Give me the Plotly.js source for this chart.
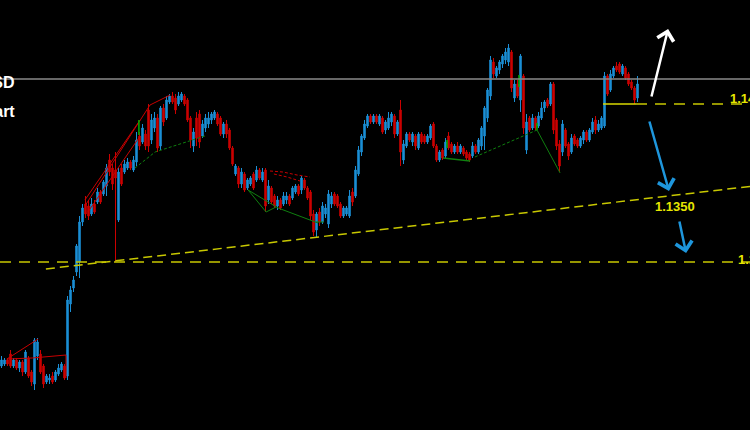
<!DOCTYPE html>
<html>
<head>
<meta charset="utf-8">
<script src="https://cdn.plot.ly/plotly-3.0.1.min.js"></script>
<style>html,body{margin:0;padding:0;background:#000;}#chart{width:750px;height:430px;}</style>
</head>
<body>
<div id="chart"></div>
<script>
// EURUSD candles (bar index 0..212)
const open = [1.1267,1.1268,1.1270,1.1273,1.1267,1.1270,1.1266,1.1269,1.1264,1.1271,
 1.1264,1.1258,1.1272,1.1273,1.1267,1.1259,1.1260,1.1262,1.1260,1.1263,
 1.1265,1.1267,1.1262,1.1298,1.1306,1.1314,1.1319,1.1339,1.1348,1.1347,
 1.1343,1.1348,1.1349,1.1354,1.1353,1.1357,1.1370,1.1366,1.1365,1.1340,
 1.1366,1.1364,1.1366,1.1369,1.1365,1.1369,1.1382,1.1379,1.1383,1.1395,
 1.1380,1.1386,1.1391,1.1377,1.1396,1.1391,1.1399,1.1402,1.1401,1.1398,
 1.1400,1.1402,1.1400,1.1391,1.1377,1.1391,1.1393,1.1382,1.1386,1.1388,
 1.1390,1.1391,1.1393,1.1391,1.1383,1.1388,1.1385,1.1376,1.1363,1.1366,
 1.1358,1.1363,1.1356,1.1358,1.1363,1.1360,1.1365,1.1360,1.1365,1.1350,
 1.1356,1.1352,1.1347,1.1350,1.1348,1.1350,1.1352,1.1351,1.1354,1.1357,
 1.1355,1.1360,1.1356,1.1354,1.1343,1.1335,1.1344,1.1339,1.1343,1.1338,
 1.1348,1.1353,1.1352,1.1348,1.1342,1.1343,1.1342,1.1354,1.1352,1.1363,
 1.1374,1.1381,1.1387,1.1392,1.1389,1.1392,1.1388,1.1391,1.1385,1.1386,
 1.1389,1.1392,1.1383,1.1395,1.1370,1.1377,1.1383,1.1379,1.1382,1.1376,
 1.1383,1.1382,1.1379,1.1381,1.1388,1.1377,1.1370,1.1375,1.1372,1.1382,
 1.1378,1.1374,1.1377,1.1374,1.1376,1.1374,1.1373,1.1372,1.1377,1.1374,
 1.1377,1.1382,1.1391,1.1402,1.1419,1.1412,1.1415,1.1418,1.1420,1.1419,
 1.1424,1.1401,1.1408,1.1400,1.1412,1.1375,1.1391,1.1386,1.1391,1.1387,
 1.1391,1.1396,1.1400,1.1398,1.1408,1.1390,1.1378,1.1374,1.1385,1.1378,
 1.1374,1.1382,1.1380,1.1377,1.1380,1.1384,1.1380,1.1384,1.1390,1.1385,
 1.1386,1.1387,1.1412,1.1405,1.1412,1.1417,1.1418,1.1413,1.1416,1.1413,
 1.1409,1.1406,1.1401];
const high = [1.1272,1.1271,1.1271,1.1275,1.1271,1.1271,1.1270,1.1270,1.1275,1.1272,
 1.1265,1.1281,1.1281,1.1275,1.1268,1.1263,1.1263,1.1264,1.1265,1.1268,
 1.1269,1.1268,1.1302,1.1307,1.1312,1.1328,1.1342,1.1348,1.1352,1.1350,
 1.1351,1.1350,1.1356,1.1355,1.1360,1.1368,1.1373,1.1368,1.1374,1.1366,
 1.1368,1.1370,1.1371,1.1370,1.1372,1.1384,1.1384,1.1388,1.1385,1.1398,
 1.1393,1.1394,1.1393,1.1397,1.1398,1.1402,1.1403,1.1404,1.1403,1.1404,
 1.1404,1.1403,1.1401,1.1392,1.1386,1.1394,1.1395,1.1390,1.1393,1.1394,
 1.1394,1.1395,1.1394,1.1392,1.1389,1.1390,1.1386,1.1377,1.1368,1.1367,
 1.1366,1.1364,1.1361,1.1362,1.1364,1.1367,1.1366,1.1366,1.1366,1.1360,
 1.1357,1.1353,1.1352,1.1351,1.1354,1.1354,1.1353,1.1357,1.1358,1.1358,
 1.1362,1.1361,1.1357,1.1355,1.1345,1.1344,1.1346,1.1349,1.1348,1.1355,
 1.1354,1.1354,1.1353,1.1349,1.1347,1.1347,1.1355,1.1356,1.1367,1.1377,
 1.1383,1.1390,1.1393,1.1393,1.1393,1.1393,1.1393,1.1392,1.1390,1.1394,
 1.1394,1.1393,1.1390,1.1400,1.1380,1.1384,1.1384,1.1384,1.1383,1.1384,
 1.1384,1.1383,1.1383,1.1388,1.1389,1.1378,1.1375,1.1376,1.1381,1.1384,
 1.1379,1.1378,1.1379,1.1378,1.1377,1.1375,1.1374,1.1379,1.1378,1.1381,
 1.1387,1.1397,1.1406,1.1422,1.1421,1.1417,1.1420,1.1423,1.1426,1.1428,
 1.1425,1.1410,1.1410,1.1423,1.1413,1.1393,1.1392,1.1393,1.1392,1.1394,
 1.1399,1.1400,1.1401,1.1409,1.1409,1.1391,1.1380,1.1390,1.1386,1.1379,
 1.1383,1.1383,1.1381,1.1382,1.1385,1.1385,1.1386,1.1391,1.1392,1.1390,
 1.1392,1.1414,1.1413,1.1415,1.1417,1.1419,1.1419,1.1418,1.1417,1.1414,
 1.1410,1.1407,1.1412];
const low = [1.1266,1.1267,1.1267,1.1266,1.1266,1.1265,1.1264,1.1262,1.1263,1.1261,
 1.1257,1.1255,1.1270,1.1263,1.1256,1.1258,1.1258,1.1258,1.1259,1.1262,
 1.1264,1.1260,1.1260,1.1294,1.1304,1.1312,1.1311,1.1337,1.1341,1.1340,
 1.1342,1.1343,1.1348,1.1348,1.1352,1.1352,1.1362,1.1355,1.1319,1.1339,
 1.1357,1.1363,1.1365,1.1365,1.1364,1.1367,1.1375,1.1378,1.1375,1.1374,
 1.1378,1.1384,1.1374,1.1375,1.1387,1.1390,1.1398,1.1398,1.1393,1.1397,
 1.1399,1.1397,1.1389,1.1376,1.1374,1.1377,1.1376,1.1381,1.1384,1.1386,
 1.1388,1.1390,1.1387,1.1382,1.1381,1.1381,1.1375,1.1367,1.1362,1.1356,
 1.1356,1.1354,1.1355,1.1357,1.1355,1.1359,1.1360,1.1359,1.1344,1.1348,
 1.1348,1.1346,1.1345,1.1345,1.1347,1.1348,1.1347,1.1350,1.1353,1.1352,
 1.1353,1.1355,1.1350,1.1340,1.1332,1.1331,1.1337,1.1338,1.1341,1.1336,
 1.1346,1.1347,1.1346,1.1341,1.1341,1.1342,1.1341,1.1347,1.1351,1.1362,
 1.1372,1.1380,1.1386,1.1388,1.1388,1.1388,1.1387,1.1383,1.1383,1.1385,
 1.1387,1.1381,1.1382,1.1367,1.1368,1.1376,1.1379,1.1377,1.1375,1.1375,
 1.1378,1.1378,1.1378,1.1380,1.1376,1.1369,1.1369,1.1370,1.1371,1.1375,
 1.1373,1.1373,1.1373,1.1373,1.1372,1.1370,1.1369,1.1371,1.1373,1.1373,
 1.1375,1.1375,1.1389,1.1400,1.1411,1.1411,1.1413,1.1416,1.1418,1.1417,
 1.1404,1.1399,1.1401,1.1394,1.1383,1.1373,1.1384,1.1385,1.1385,1.1386,
 1.1390,1.1394,1.1396,1.1397,1.1383,1.1375,1.1364,1.1372,1.1376,1.1370,
 1.1373,1.1377,1.1376,1.1376,1.1378,1.1379,1.1379,1.1383,1.1383,1.1384,
 1.1385,1.1386,1.1402,1.1404,1.1411,1.1414,1.1413,1.1412,1.1410,1.1407,
 1.1405,1.1398,1.1399];
const close = [1.1270,1.1270,1.1268,1.1267,1.1270,1.1266,1.1269,1.1264,1.1274,1.1262,
 1.1259,1.1280,1.1279,1.1264,1.1258,1.1262,1.1261,1.1259,1.1264,1.1266,
 1.1268,1.1261,1.1300,1.1305,1.1310,1.1327,1.1339,1.1346,1.1343,1.1342,
 1.1348,1.1344,1.1354,1.1349,1.1359,1.1366,1.1364,1.1358,1.1361,1.1364,
 1.1358,1.1368,1.1369,1.1366,1.1370,1.1380,1.1377,1.1386,1.1377,1.1377,
 1.1390,1.1391,1.1376,1.1396,1.1389,1.1400,1.1402,1.1399,1.1395,1.1402,
 1.1403,1.1398,1.1390,1.1380,1.1384,1.1381,1.1379,1.1388,1.1391,1.1391,
 1.1393,1.1394,1.1388,1.1383,1.1388,1.1383,1.1376,1.1368,1.1367,1.1358,
 1.1364,1.1355,1.1360,1.1361,1.1356,1.1365,1.1361,1.1364,1.1347,1.1357,
 1.1349,1.1347,1.1350,1.1346,1.1352,1.1352,1.1348,1.1356,1.1357,1.1353,
 1.1361,1.1356,1.1351,1.1342,1.1334,1.1343,1.1339,1.1347,1.1346,1.1353,
 1.1352,1.1348,1.1347,1.1342,1.1346,1.1346,1.1352,1.1349,1.1365,1.1375,
 1.1382,1.1388,1.1392,1.1389,1.1392,1.1389,1.1392,1.1384,1.1389,1.1391,
 1.1393,1.1383,1.1389,1.1374,1.1378,1.1383,1.1380,1.1383,1.1377,1.1383,
 1.1379,1.1379,1.1382,1.1387,1.1377,1.1370,1.1374,1.1371,1.1379,1.1376,
 1.1374,1.1377,1.1374,1.1377,1.1373,1.1371,1.1370,1.1377,1.1374,1.1380,
 1.1386,1.1396,1.1405,1.1420,1.1413,1.1416,1.1419,1.1422,1.1424,1.1426,
 1.1406,1.1408,1.1402,1.1422,1.1386,1.1389,1.1385,1.1391,1.1386,1.1392,
 1.1396,1.1399,1.1397,1.1408,1.1385,1.1377,1.1367,1.1388,1.1377,1.1372,
 1.1381,1.1378,1.1377,1.1381,1.1384,1.1380,1.1385,1.1389,1.1385,1.1388,
 1.1391,1.1412,1.1403,1.1413,1.1416,1.1415,1.1414,1.1417,1.1411,1.1408,
 1.1406,1.1400,1.1408];
const bars = open.map((_, i) => i);

// Levels & trendline
const currentPrice = 1.14105;
const resistance = 1.1398;
const support = 1.1319;
const trendX = [14.8, 249.5];
const trendY = [1.13155, 1.13568];
const levelLabels = ['1.1400', '1.1350', '1.1320'];

// Pattern lines [bar index], [price]
const redA_x = [1.8, 12.2];            const redA_y = [1.12705, 1.12805];
const redB_x = [1.8, 10.2, 21.5, 21.5]; const redB_y = [1.12705, 1.1271, 1.12725, 1.1261];
const red1_x = [27.8, 49.5, 56.2];      const red1_y = [1.1347, 1.13975, 1.14025];
const red2_x = [27.8, 46.2];            const red2_y = [1.1350, 1.1390];
const red3_x = [28.8, 46.2];            const red3_y = [1.1344, 1.1382];
const arcA_x = [89.5, 93.8, 98.5, 102.8]; const arcA_y = [1.13645, 1.1364, 1.13625, 1.13615];
const arcB_x = [90.8, 95.2, 99.5];      const arcB_y = [1.1363, 1.13615, 1.13595];
const grnD1_x = [44.5, 51.2, 67.8];     const grnD1_y = [1.1366, 1.1374, 1.1382];
const grnV1_x = [45.8, 45.8];           const grnV1_y = [1.1390, 1.13825];
const grn1_x = [82.2, 88.2, 91.5];      const grn1_y = [1.1355, 1.1344, 1.13465];
const grn2_x = [82.2, 92.2, 105.5];     const grn2_y = [1.1355, 1.1346, 1.13385];
const grn3_x = [104.8, 107.5];          const grn3_y = [1.1339, 1.1339];
const grn4_x = [147.2, 156.2];          const grn4_y = [1.1371, 1.13695];
const grnD2_x = [157.8, 178.5];         const grnD2_y = [1.13715, 1.1385];
const grn5_x = [178.5, 186.2];          const grn5_y = [1.1385, 1.13635];
const grnV2_x = [148.5, 148.5];         const grnV2_y = [1.1380, 1.1376];
const grnV3_x = [172.5, 172.5];         const grnV3_y = [1.14125, 1.14065];
const grnV4_x = [178.5, 178.5];         const grnV4_y = [1.13885, 1.1385];

const RED = '#c80000', GRN = '#0f7f0f', YEL = '#c8c800', BLUE = '#1e96dc';

function line(x, y, color, dash, w) {
  return {type: 'scatter', mode: 'lines', x: x, y: y, hoverinfo: 'skip',
          line: {color: color, width: w || 1, dash: dash || 'solid'}};
}

const traces = [
  {type: 'candlestick', x: bars, open: open, high: high, low: low, close: close,
   increasing: {line: {color: '#1b8fd6', width: 1}, fillcolor: '#1b8fd6'},
   decreasing: {line: {color: '#cc0000', width: 1}, fillcolor: '#cc0000'},
   whiskerwidth: 0, hoverinfo: 'skip'},
  line(redA_x, redA_y, RED), line(redB_x, redB_y, RED),
  line(red1_x, red1_y, RED), line(red2_x, red2_y, RED), line(red3_x, red3_y, RED),
  line(arcA_x, arcA_y, RED, '3px,2px'), line(arcB_x, arcB_y, RED, '3px,2px'),
  line(grnD1_x, grnD1_y, GRN, '3px,2px'), line(grnV1_x, grnV1_y, '#00b000', null, 1.5),
  line(grn1_x, grn1_y, GRN), line(grn2_x, grn2_y, GRN), line(grn3_x, grn3_y, GRN),
  line(grn4_x, grn4_y, GRN, null, 1.5), line(grnD2_x, grnD2_y, GRN, '3px,2px'),
  line(grn5_x, grn5_y, GRN),
  line(grnV2_x, grnV2_y, '#00b000', null, 1.5), line(grnV3_x, grnV3_y, '#00b000', null, 1.5),
  line(grnV4_x, grnV4_y, '#00b000', null, 1.5)
];

const layout = {
  width: 750, height: 430,
  margin: {l: 0, r: 0, t: 0, b: 0, pad: 0},
  paper_bgcolor: '#000', plot_bgcolor: '#000',
  showlegend: false, boxgap: 0.3,
  xaxis: {range: [-0.5, 249.5], visible: false, fixedrange: true, rangeslider: {visible: false}},
  yaxis: {range: [1.1235, 1.1450], visible: false, fixedrange: true},
  shapes: [
    {type: 'line', xref: 'paper', x0: 0, x1: 1, yref: 'y', y0: currentPrice, y1: currentPrice,
     line: {color: '#8a8a8a', width: 1.5}},
    {type: 'line', xref: 'paper', x0: 0, x1: 1, yref: 'y', y0: support, y1: support,
     line: {color: YEL, width: 1.5, dash: '11px,8px'}},
    {type: 'line', xref: 'x', x0: 200.5, x1: 211.5, yref: 'y', y0: resistance, y1: resistance,
     line: {color: '#d8d800', width: 1.5}},
    {type: 'line', xref: 'x', x0: 211.5, x1: 249.5, yref: 'y', y0: resistance, y1: resistance,
     line: {color: YEL, width: 1.5, dash: '11px,8px'}},
    {type: 'line', xref: 'x', x0: trendX[0], x1: trendX[1], yref: 'y', y0: trendY[0], y1: trendY[1],
     line: {color: YEL, width: 1.5, dash: '9px,5px'}}
  ],
  annotations: [
    {xref: 'paper', yref: 'paper', x: 17/750, y: 1 - 82/430, xanchor: 'right', yanchor: 'middle',
     text: '<b>EURUSD</b>', showarrow: false, font: {family: 'Arial, Liberation Sans', size: 16, color: '#ffffff'}},
    {xref: 'paper', yref: 'paper', x: 17/750, y: 1 - 111/430, xanchor: 'right', yanchor: 'middle',
     text: '<b>H4 Chart</b>', showarrow: false, font: {family: 'Arial, Liberation Sans', size: 16, color: '#ffffff'}},
    {x: 242.2, y: 1.1401, xanchor: 'left', yanchor: 'middle', text: '<b>' + levelLabels[0] + '</b>',
     showarrow: false, font: {family: 'Arial, Liberation Sans', size: 13, color: '#e6e600'}},
    {x: 217.2, y: 1.1347, xanchor: 'left', yanchor: 'middle', text: '<b>' + levelLabels[1] + '</b>',
     showarrow: false, font: {family: 'Arial, Liberation Sans', size: 13, color: '#e6e600'}},
    {x: 244.8, y: 1.13205, xanchor: 'left', yanchor: 'middle', text: '<b>' + levelLabels[2] + '</b>',
     showarrow: false, font: {family: 'Arial, Liberation Sans', size: 13, color: '#e6e600'}},
    {x: 222.2, y: 1.14355, text: '', showarrow: true, ax: -17, ay: 69, arrowhead: 4,
     arrowsize: 1.3, arrowwidth: 2.5, arrowcolor: '#ffffff', standoff: 0},
    {x: 222.5, y: 1.13545, text: '', showarrow: true, ax: -20, ay: -71, arrowhead: 4,
     arrowsize: 1.3, arrowwidth: 2.5, arrowcolor: BLUE, standoff: 0},
    {x: 228.2, y: 1.13235, text: '', showarrow: true, ax: -7, ay: -33, arrowhead: 4,
     arrowsize: 1.3, arrowwidth: 2.5, arrowcolor: BLUE, standoff: 0}
  ]
};

Plotly.newPlot('chart', traces, layout, {staticPlot: true, displayModeBar: false});
</script>
</body>
</html>
